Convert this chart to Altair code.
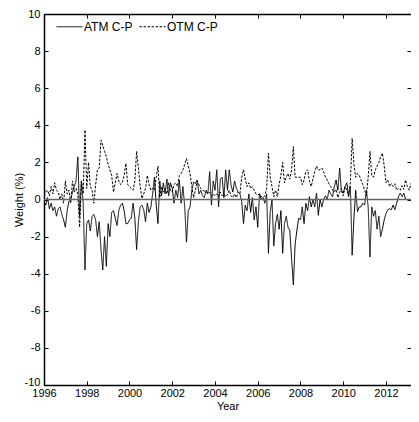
import altair as alt
import pandas as pd

# ---- data (monthly, Jan 1996 onward) ----
atm_cp = [
    -0.1, -0.3, 0.1, -0.5, -0.2, -0.6, -0.4, -0.9, -0.5, -0.4, -0.8, -1.1,      # 1996
    -1.5, -0.6, -0.1, 0.0, 0.4, 0.7, 1.0, 2.3, -0.9, 1.0, -0.2, -3.8,           # 1997
    -1.3, -1.1, -1.7, -0.9, -0.8, -1.1, -2.0, -1.2, -2.7, -3.8, -2.0, -3.6,     # 1998
    -1.3, -2.0, -0.7, -0.6, -1.0, -1.4, -0.6, -0.3, -0.2, -0.6, -1.3, -1.3,     # 1999
    -1.1, -1.0, -0.2, -1.0, -2.7, -1.2, -0.4, -0.3, -0.55, -1.2, -0.2, -0.7,    # 2000
    -0.4, 0.3, 1.2, -0.3, -1.3, 1.0, 0.2, 0.9, 0.3, 1.1, 0.2, 0.9,              # 2001
    0.6, -0.2, 0.5, 0.1, 1.05, -0.2, 0.7, -0.4, -2.3, -0.6, -0.4, 0.5,          # 2002
    0.95, 0.85, 1.05, 0.3, 0.5, 0.2, 0.1, 0.5, 0.3, 1.5, -0.3, 1.0,             # 2003
    0.5, 1.6, -0.4, 1.1, 1.2, 0.1, 1.6, 0.5, 1.6, 0.8, 0.4, 1.0,                # 2004
    0.6, 0.4, 0.3, -0.1, -1.3, -0.3, -0.6, 0.3, -0.7, 0.1, -1.1, -0.4,          # 2005
    -1.5, 0.3, 0.0, 0.1, -0.2, 0.3, -2.9, -0.7, 0.0, -2.5, -1.3, -0.8,          # 2006
    -1.6, -0.6, -2.9, -1.3, -0.9, -1.5, -1.65, -3.2, -4.6, -2.4, -1.65, -1.0,   # 2007
    -1.1, -0.4, -1.3, -0.2, -0.6, 0.15, -0.4, 0.0, -0.4, 0.35, -0.85, 0.0,      # 2008
    -0.4, 0.0, 0.2, 0.0, 0.5, 0.3, 0.15, 0.7, 1.05, 0.5, 1.7, 0.4,              # 2009
    0.35, 0.7, 0.9, 0.15, 0.7, -3.0, -1.0, 0.5, -0.65, -0.4, -0.4, -0.2,        # 2010
    -0.3, 0.5, -0.4, -3.1, -0.4, -0.9, -0.6, -1.6, -0.9, -2.0, -1.6, -1.1,      # 2011
    -0.75, -0.55, -0.5, -0.55, -0.3, -0.55, -0.2, 0.15, 0.35, 0.15, 0.35, 0.0,  # 2012
    0.0, 0.0, 0.0, -0.2, -1.8, 0.8, -0.6,                                       # 2013
]
otm_cp = [
    0.6, 0.4, 0.5, 0.2, 0.7, 0.3, 0.9, 0.5, 0.4, 0.0, 0.3, -0.2,                # 1996
    1.0, 0.3, 0.5, -0.2, 1.0, 0.4, 0.6, 0.3, -1.5, 1.0, 0.3, 3.75,              # 1997
    0.6, 2.0, 0.7, 0.5, -0.2, 0.8, 1.6, 1.7, 3.2, 2.9, 2.6, 2.3,                # 1998
    1.9, 1.6, 1.3, 0.4, 0.9, 1.4, 1.0, 0.8, 0.95, 1.3, 1.95, 0.8,               # 1999
    0.7, 0.6, 0.5, 1.0, 2.6, 1.7, 0.7, 0.05, 0.3, 0.6, 1.3, 0.8,                # 2000
    0.5, 0.6, 0.5, 1.2, 1.8, 0.1, 0.7, 0.4, 0.6, 0.3, 0.9, 0.5,                 # 2001
    0.4, 0.8, 0.9, 0.7, 1.3, 1.4, 1.6, 1.9, 2.2, 1.8, 1.4, 0.7,                 # 2002
    0.1, 0.5, 1.0, 0.8, 0.6, 0.5, 0.45, 0.4, 0.3, 0.4, 0.2, 0.3,                # 2003
    0.2, 0.3, 0.15, 0.4, 0.2, 0.3, 0.15, 0.25, 0.5, 0.2, 0.1, 0.3,              # 2004
    0.1, 0.4, 0.3, 1.2, 1.6, 1.1, 0.7, 0.9, 0.6, 0.7, 0.5, 0.3,                 # 2005
    0.25, 0.3, 0.15, 0.1, 0.2, 0.6, 2.5, 1.2, 0.7, 0.15, 0.5, 0.15,             # 2006
    0.8, 1.3, 2.0, 0.9, 1.2, 1.4, 1.1, 1.6, 2.85, 1.2, 1.2, 1.2,                # 2007
    1.2, 0.8, 1.05, 1.5, 1.6, 1.0, 0.7, 1.1, 1.5, 1.8, 1.6, 1.6,                # 2008
    1.7, 1.5, 1.2, 1.05, 0.85, 0.7, 0.5, 0.4, 0.55, 0.1, 0.4, 0.6,              # 2009
    0.2, 0.7, 0.5, 0.2, 0.9, 3.3, 1.9, 1.2, 1.4, 1.3, 1.05, 0.8,                # 2010
    0.5, 0.2, 1.2, 2.6, 1.3, 1.2, 1.6, 1.8, 2.0, 2.3, 2.5, 1.8,                 # 2011
    0.9, 1.05, 0.7, 0.85, 0.7, 0.85, 0.5, 0.6, 0.5, 0.75, 0.55, 1.05,           # 2012
    0.7, 0.5, 0.85, 1.05, 2.0, 1.0, 1.05,                                       # 2013
]
series_names = ["ATM C-P", "OTM C-P"]
start_year = 1996
x_domain = [1996, 2013.17]
y_domain = [-10, 10]
x_ticks = [1996, 1998, 2000, 2002, 2004, 2006, 2008, 2010, 2012]
y_ticks = [-10, -8, -6, -4, -2, 0, 2, 4, 6, 8, 10]
zero_line = [0]

n = len(atm_cp)
years = [start_year + i / 12 for i in range(n)]
df = pd.DataFrame({
    "year": years + years,
    "weight": atm_cp + otm_cp,
    "series": [series_names[0]] * n + [series_names[1]] * n,
})
zdf = pd.DataFrame({"v": zero_line})

FONT = "Liberation Sans"
xs = alt.Scale(domain=x_domain, nice=False, zero=False)
ys = alt.Scale(domain=y_domain, nice=False, zero=False)

main_common = dict(
    grid=False, ticks=False, tickSize=0, domain=True, domainColor="black",
    domainWidth=1.5, labelColor="black", labelFont=FONT, labelFontSize=11,
    titleFont=FONT, titleFontSize=11, titleFontWeight="normal", titleColor="black",
    labelExpr="'' + datum.value", labelFlush=False, labelOverlap=False,
)


def tick_axis(orient, values):
    return alt.Axis(orient=orient, values=values, domain=False, labels=False,
                    ticks=True, tickSize=4, tickColor="black", tickWidth=1,
                    offset=-4, grid=False, title=None)


lines = alt.Chart(df).mark_line(strokeWidth=1, clip=True, color="black").encode(
    x=alt.X("year:Q", scale=xs,
            axis=alt.Axis(orient="bottom", values=x_ticks, labelPadding=2,
                          title="Year", titlePadding=2, **main_common)),
    y=alt.Y("weight:Q", scale=ys,
            axis=alt.Axis(orient="left", values=y_ticks, labelPadding=4,
                          labelBaseline={"condition": {"test": "datum.value == -10",
                                                       "value": "alphabetic"},
                                         "value": "middle"},
                          title="Weight (%)", titlePadding=0, **main_common)),
    strokeDash=alt.StrokeDash(
        "series:N",
        scale=alt.Scale(domain=series_names, range=[[1, 0], [2.5, 1.5]]),
        legend=alt.Legend(orient="none", legendX=12, legendY=-1,
                          direction="horizontal", title=None,
                          symbolType="stroke", symbolSize=676,
                          symbolStrokeColor="black", symbolStrokeWidth=1,
                          labelFont=FONT, labelFontSize=12, labelColor="black",
                          labelOffset=1, columnPadding=4, padding=0),
    ),
)

zero = alt.Chart(zdf).mark_rule(color="#666666", strokeWidth=1.5).encode(
    y=alt.Y("v:Q", scale=ys, axis=tick_axis("right", y_ticks)),
)

ticks_bl = alt.Chart(df).mark_point(opacity=0).encode(
    x=alt.X("year:Q", scale=xs, axis=tick_axis("bottom", x_ticks)),
    y=alt.Y("weight:Q", scale=ys, axis=tick_axis("left", y_ticks)),
)

top_border = alt.Chart(df).mark_point(opacity=0).encode(
    x=alt.X("year:Q", scale=xs,
            axis=alt.Axis(orient="top", domain=True, ticks=False, labels=False,
                          domainColor="black", domainWidth=1.5, grid=False,
                          title=None)),
    y=alt.Y("weight:Q", scale=ys, axis=None),
)

ticks_top = alt.Chart(df).mark_point(opacity=0).encode(
    x=alt.X("year:Q", scale=xs, axis=tick_axis("top", x_ticks)),
    y=alt.Y("weight:Q", scale=ys, axis=None),
)

chart = (
    alt.layer(lines, zero, ticks_bl, top_border, ticks_top)
    .resolve_axis(x="independent", y="independent")
    .properties(
        width=367, height=371,
        padding={"left": 36, "top": 6, "right": 0, "bottom": 27},
        autosize=alt.AutoSizeParams(type="none"),
        background="white",
    )
    .configure_view(stroke=None)
)

chart.save("out.html", embed_options={"renderer": "svg", "actions": False})
